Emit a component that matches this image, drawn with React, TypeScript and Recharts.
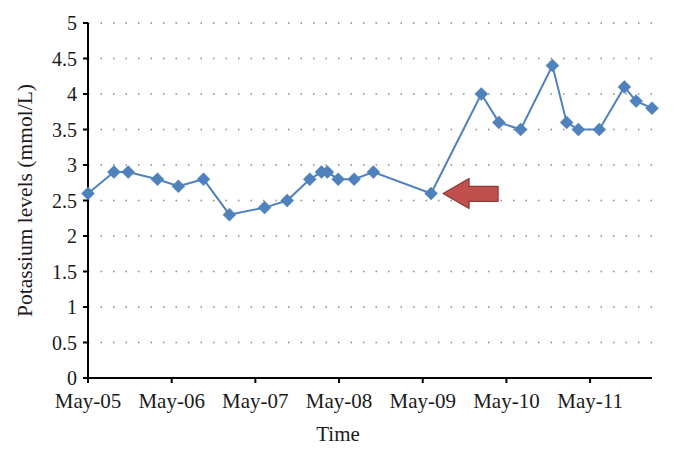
import { LineChart, Line, XAxis, YAxis, CartesianGrid, ReferenceDot } from 'recharts'

// days since May-05 for each measurement
const dayOffsets = [0, 0.31, 0.48, 0.83, 1.08, 1.38, 1.69, 2.11, 2.38, 2.65, 2.79, 2.86, 2.99, 3.18, 3.41, 4.1, 4.7, 4.91, 5.17, 5.55, 5.72, 5.86, 6.11, 6.41, 6.55, 6.74]
const potassium = [2.6, 2.9, 2.9, 2.8, 2.7, 2.8, 2.3, 2.4, 2.5, 2.8, 2.9, 2.9, 2.8, 2.8, 2.9, 2.6, 4.0, 3.6, 3.5, 4.4, 3.6, 3.5, 3.5, 4.1, 3.9, 3.8]
const dayLabels = ['May-05', 'May-06', 'May-07', 'May-08', 'May-09', 'May-10', 'May-11']
const yTicks = [0, 0.5, 1, 1.5, 2, 2.5, 3, 3.5, 4, 4.5, 5]
const arrowPoint = { t: 4.1, v: 2.6 }

const data = dayOffsets.map((t, i) => ({ t, v: potassium[i] }))

const FONT = '"Liberation Serif", "DejaVu Serif", serif'
const BLUE = '#4f81bd'
const TEXT = '#1a1a1a'

const Diamond = ({ cx, cy }: any) => {
    if (cx == null || cy == null) return null
    const r = 6.5
    return <polygon points={`${cx},${cy - r} ${cx + r},${cy} ${cx},${cy + r} ${cx - r},${cy}`} fill={BLUE} stroke={BLUE} strokeWidth={0.5} />
}

// red block arrow pointing left at the marked point
const Arrow = ({ cx, cy }: any) => {
    if (cx == null || cy == null) return null
    const tip = cx + 12
    const base = tip + 26
    const end = tip + 55
    const pts = [
        [tip, cy], [base, cy - 15], [base, cy - 7], [end, cy - 7],
        [end, cy + 8], [base, cy + 8], [base, cy + 15],
    ].map(p => p.join(',')).join(' ')
    return <polygon points={pts} fill="#c0504d" stroke="#8c3836" strokeWidth={1.2} strokeLinejoin="round" />
}

export default function App() {
    return (
        <div style={{ position: 'absolute', left: 0, top: 0, width: 673, height: 453, background: '#fff' }}>
            <LineChart width={673} height={453} data={data} margin={{ top: 23, right: 21, left: 0, bottom: 0 }}>
                <CartesianGrid horizontal vertical={false} stroke="#8a8a8a" strokeWidth={1.5} strokeDasharray="1.5 11" />
                <XAxis
                    dataKey="t"
                    type="number"
                    domain={[0, 6.74]}
                    ticks={[0, 1, 2, 3, 4, 5, 6]}
                    tickFormatter={(d: number) => dayLabels[d]}
                    height={75}
                    stroke="#000"
                    strokeWidth={2}
                    tickSize={5}
                    tickMargin={10}
                    tick={{ fontSize: 21, fill: TEXT, fontFamily: FONT }}
                    label={{ value: 'Time', position: 'center', dx: -32, dy: 18, fontSize: 21, fill: TEXT, fontFamily: FONT }}
                />
                <YAxis
                    type="number"
                    domain={[0, 5]}
                    ticks={yTicks}
                    width={88}
                    stroke="#000"
                    strokeWidth={2}
                    tickSize={5}
                    tickMargin={6}
                    tick={{ fontSize: 20, fill: TEXT, fontFamily: FONT }}
                    label={{ value: 'Potassium levels (mmol/L)', angle: -90, position: 'center', dx: -20, fontSize: 21.5, fill: TEXT, fontFamily: FONT }}
                />
                <Line
                    dataKey="v"
                    stroke={BLUE}
                    strokeWidth={2}
                    dot={<Diamond />}
                    activeDot={false}
                    isAnimationActive={false}
                />
                <ReferenceDot x={arrowPoint.t} y={arrowPoint.v} shape={<Arrow />} />
            </LineChart>
        </div>
    )
}
